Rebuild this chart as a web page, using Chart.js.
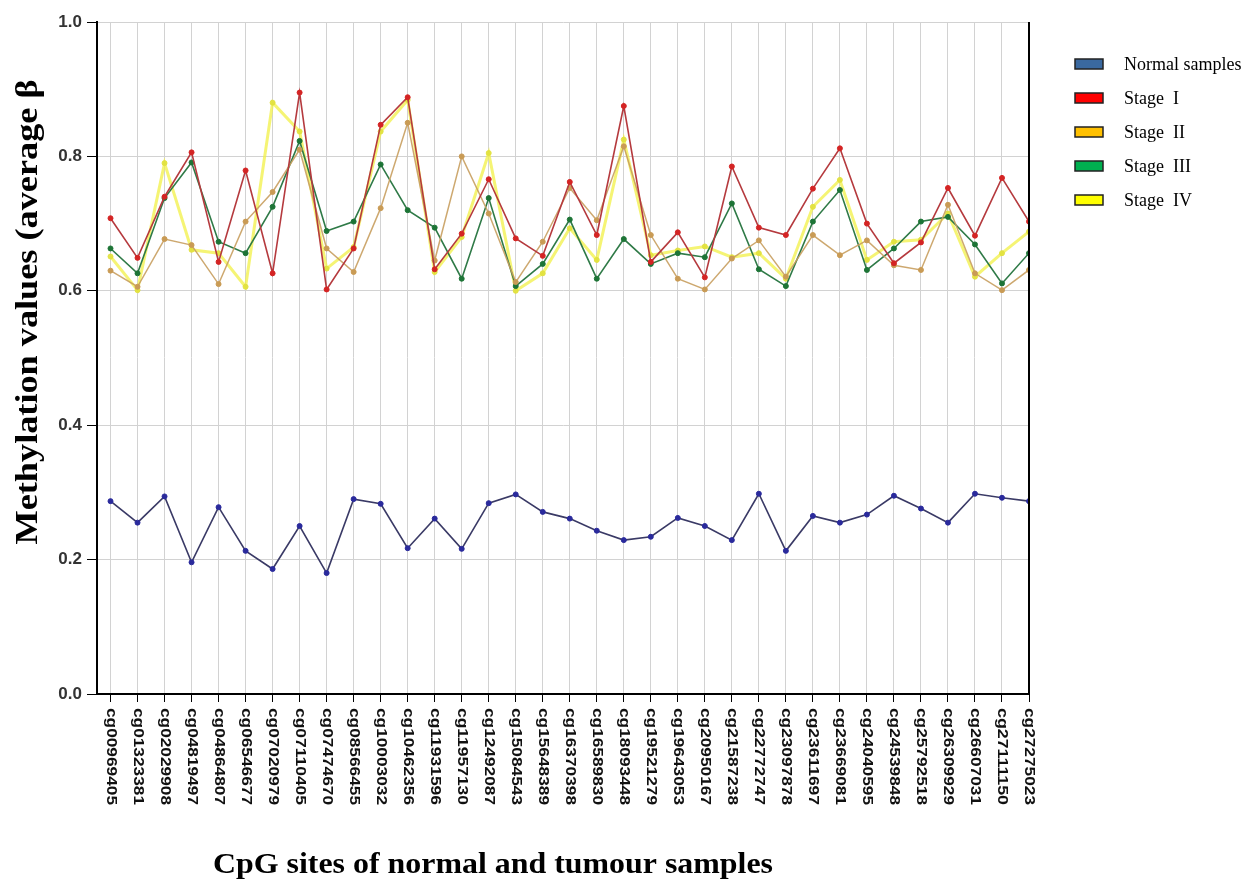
<!DOCTYPE html>
<html>
<head>
<meta charset="utf-8">
<title>CpG methylation</title>
<script src="https://cdn.jsdelivr.net/npm/chart.js@4.4.1/dist/chart.umd.min.js"></script>
<style>
  html, body { margin: 0; padding: 0; background: #fff; }
  #chartBox { width: 1258px; height: 881px; }
</style>
</head>
<body>
<div id="chartBox"><canvas id="methChart" width="1258" height="881"></canvas></div>
<script>
// CpG sites on the x axis
const cpgSites = [
    'cg00969405', 'cg01323381', 'cg02029908', 'cg04819497', 'cg04864807',
    'cg06546677', 'cg07020979', 'cg07110405', 'cg07474670', 'cg08566455',
    'cg10003032', 'cg10462356', 'cg11931596', 'cg11957130', 'cg12492087',
    'cg15084543', 'cg15648389', 'cg16370398', 'cg16589830', 'cg18093448',
    'cg19521279', 'cg19643053', 'cg20950167', 'cg21587238', 'cg22772747',
    'cg23097878', 'cg23611697', 'cg23669081', 'cg24040595', 'cg24539848',
    'cg25792518', 'cg26309929', 'cg26607031', 'cg27111150', 'cg27275023'
];

// average beta values per group
const normalValues = [0.287, 0.255, 0.294, 0.196, 0.278, 0.213, 0.186, 0.250, 0.180, 0.290,
    0.283, 0.217, 0.261, 0.216, 0.284, 0.297, 0.271, 0.261, 0.243, 0.229,
    0.234, 0.262, 0.250, 0.229, 0.298, 0.213, 0.265, 0.255, 0.267, 0.295,
    0.276, 0.255, 0.298, 0.292, 0.287];
const stage1Values = [0.708, 0.649, 0.740, 0.806, 0.643, 0.779, 0.626, 0.895, 0.602, 0.663,
    0.847, 0.888, 0.632, 0.685, 0.766, 0.678, 0.652, 0.762, 0.683, 0.875,
    0.643, 0.687, 0.620, 0.785, 0.694, 0.683, 0.752, 0.812, 0.700, 0.641,
    0.672, 0.753, 0.682, 0.768, 0.703];
const stage2Values = [0.630, 0.606, 0.677, 0.668, 0.610, 0.703, 0.747, 0.810, 0.663, 0.628,
    0.723, 0.850, 0.645, 0.800, 0.715, 0.613, 0.673, 0.753, 0.705, 0.815,
    0.683, 0.618, 0.602, 0.648, 0.675, 0.621, 0.683, 0.653, 0.675, 0.638,
    0.631, 0.728, 0.626, 0.601, 0.631];
const stage3Values = [0.663, 0.626, 0.738, 0.791, 0.673, 0.656, 0.725, 0.823, 0.689, 0.703,
    0.788, 0.720, 0.694, 0.618, 0.738, 0.607, 0.640, 0.706, 0.618, 0.677,
    0.640, 0.656, 0.650, 0.730, 0.632, 0.607, 0.703, 0.750, 0.631, 0.663,
    0.703, 0.710, 0.669, 0.611, 0.656];
const stage4Values = [0.651, 0.601, 0.790, 0.661, 0.656, 0.606, 0.880, 0.837, 0.633, 0.665,
    0.837, 0.884, 0.628, 0.680, 0.805, 0.600, 0.626, 0.693, 0.646, 0.825,
    0.653, 0.660, 0.666, 0.650, 0.656, 0.618, 0.725, 0.765, 0.646, 0.673,
    0.676, 0.715, 0.621, 0.656, 0.688];

const yTicks = [0, 0.2, 0.4, 0.6, 0.8, 1.0];
const seriesNames = ['Normal samples', 'Stage  I', 'Stage  II', 'Stage  III', 'Stage  IV'];
const xTitle = 'CpG sites of normal and tumour samples';
const yTitle = 'Methylation values (average \u03b2';

const toPoints = vals => vals.map((v, i) => ({ x: i, y: v }));

const makeSet = (label, vals, line, dot, swatch, width) => ({
    label: label,
    data: toPoints(vals),
    borderColor: line,
    backgroundColor: dot,
    pointBackgroundColor: dot,
    pointBorderColor: dot,
    pointRadius: 2.5,
    pointBorderWidth: 1,
    borderWidth: width,
    tension: 0,
    swatch: swatch
});

const datasets = [
    makeSet(seriesNames[0], normalValues, '#3a3a66', '#2a2a9c', '#3a69a0', 1.6),
    makeSet(seriesNames[1], stage1Values, '#b53a3e', '#d42424', '#ff0000', 1.6),
    makeSet(seriesNames[2], stage2Values, 'rgba(200,158,95,0.9)', '#c99b55', '#ffc000', 1.5),
    makeSet(seriesNames[3], stage3Values, '#2f7a47', '#1d7436', '#00b050', 1.6),
    makeSet(seriesNames[4], stage4Values, 'rgba(242,240,70,0.75)', 'rgba(225,225,60,0.9)', '#ffff00', 3)
];

// draws text centred at (cx, cy), stretched along its run to the given length
const stretchedText = (ctx, text, cx, cy, angle, length) => {
    const w = ctx.measureText(text).width;
    ctx.save();
    ctx.translate(cx, cy);
    ctx.rotate(angle);
    ctx.scale(length / w, 1);
    ctx.fillText(text, 0, 0);
    ctx.restore();
};

// extra drawing: rotated site names, axis titles, right border and legend
const decorPlugin = {
    id: 'decor',
    afterDraw(chart) {
        const ctx = chart.ctx;
        const area = chart.chartArea;
        const xs = chart.scales.x;

        ctx.save();
        // right border of the plot
        ctx.strokeStyle = '#000';
        ctx.lineWidth = 2;
        ctx.beginPath();
        ctx.moveTo(area.right, area.top);
        ctx.lineTo(area.right, area.bottom);
        ctx.stroke();

        // site names, reading top to bottom
        ctx.fillStyle = '#111';
        ctx.font = 'bold 14px "Liberation Sans", Arial, sans-serif';
        ctx.textAlign = 'left';
        ctx.textBaseline = 'middle';
        cpgSites.forEach((name, i) => {
            const px = xs.getPixelForValue(i);
            const w = ctx.measureText(name).width;
            ctx.save();
            ctx.translate(px, area.bottom + 14);
            ctx.rotate(Math.PI / 2);
            ctx.scale(97 / w, 1);
            ctx.fillText(name, 0, 0);
            ctx.restore();
        });

        // axis titles
        ctx.fillStyle = '#000';
        ctx.textAlign = 'center';
        ctx.textBaseline = 'middle';
        ctx.font = 'bold 30px "Liberation Serif", "Times New Roman", serif';
        stretchedText(ctx, xTitle, 493, 865, 0, 560);
        ctx.font = 'bold 31px "Liberation Serif", "Times New Roman", serif';
        stretchedText(ctx, yTitle, 29, 312, -Math.PI / 2, 465);

        // legend
        ctx.font = '18px "Liberation Serif", "Times New Roman", serif';
        ctx.textAlign = 'left';
        chart.data.datasets.forEach((ds, i) => {
            const cy = 64 + i * 34;
            ctx.fillStyle = ds.swatch;
            ctx.fillRect(1075, cy - 5, 28, 10);
            ctx.strokeStyle = '#222';
            ctx.lineWidth = 1.5;
            ctx.strokeRect(1075, cy - 5, 28, 10);
            ctx.fillStyle = '#000';
            ctx.fillText(ds.label, 1124, cy + 1);
        });
        ctx.restore();
    }
};

const ctx = document.getElementById('methChart').getContext('2d');
const methChart = new Chart(ctx, {
    type: 'line',
    data: { datasets: datasets },
    options: {
        responsive: false,
        devicePixelRatio: 1,
        animation: false,
        layout: {
            padding: { top: 22, right: 229, left: 0, bottom: 0 }
        },
        plugins: {
            legend: { display: false },
            tooltip: { enabled: false }
        },
        scales: {
            x: {
                type: 'linear',
                min: -0.5,
                max: cpgSites.length - 1,
                afterBuildTicks: scale => {
                    scale.ticks = cpgSites.map((_, i) => ({ value: i }));
                },
                afterFit: scale => {
                    scale.height = 881 - 694;
                },
                ticks: { display: false },
                grid: {
                    color: '#d2d2d2',
                    lineWidth: 1,
                    tickColor: '#000',
                    tickLength: 8,
                    drawTicks: true
                },
                border: { color: '#000', width: 2 }
            },
            y: {
                min: 0,
                max: 1,
                afterBuildTicks: scale => {
                    scale.ticks = yTicks.map(v => ({ value: v }));
                },
                afterFit: scale => {
                    scale.width = 97;
                },
                ticks: {
                    callback: v => v.toFixed(1),
                    color: '#333',
                    padding: 5,
                    font: { family: '"Liberation Sans", Arial, sans-serif', size: 17, weight: 'bold' }
                },
                grid: {
                    color: '#d2d2d2',
                    lineWidth: 1,
                    tickColor: '#000',
                    tickLength: 10
                },
                border: { color: '#000', width: 2 }
            }
        }
    },
    plugins: [decorPlugin]
});
</script>
</body>
</html>
